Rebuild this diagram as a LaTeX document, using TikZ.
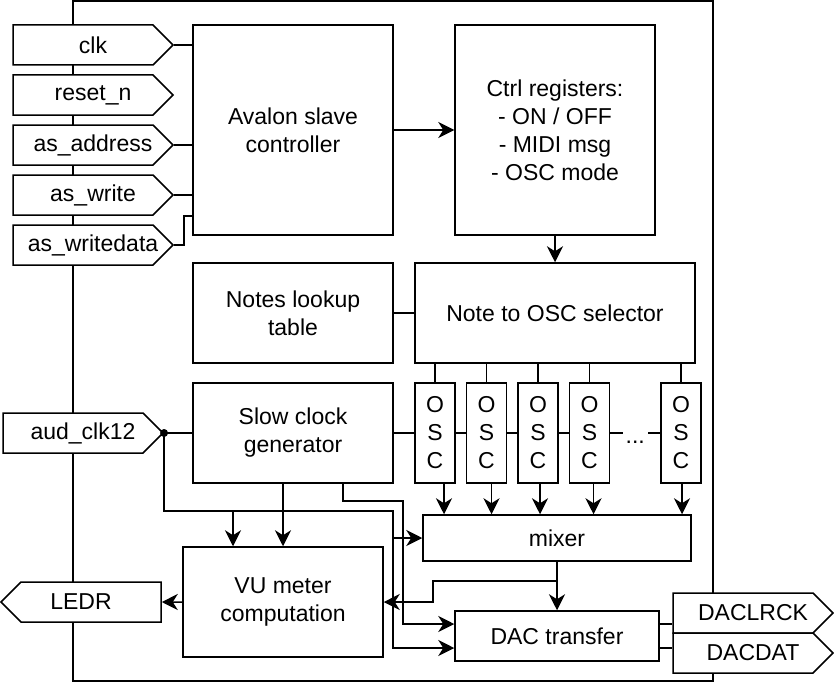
\documentclass[tikz,border=0pt]{standalone}
\usepackage{fontspec}
\setmainfont{Liberation Sans}
\usetikzlibrary{positioning, arrows.meta, shapes.symbols}

\begin{document}
\begin{tikzpicture}[x=1pt, y=-1pt, line width=1.5pt, font=\fontsize{23}{28}\selectfont,
  box/.style={draw, fill=white, align=center, inner sep=0pt},
  osc/.style={box, minimum width=40pt, minimum height=100pt},
  pinin/.style={draw, fill=white, shape=signal, signal to=east, signal pointer angle=90, minimum width=160pt, minimum height=40pt, inner sep=0pt, execute at end node={\hspace*{-20pt}}},
  pinout/.style={draw, fill=white, shape=signal, signal to=west, signal pointer angle=90, minimum width=160pt, minimum height=40pt, inner sep=0pt, execute at begin node={\hspace*{-20pt}}},
  arrow/.style={-{Stealth[length=16pt, width=16pt, inset=5pt]}}]

  \useasboundingbox (0,0) rectangle (834,682);
  \node[draw, minimum width=640pt, minimum height=680pt, inner sep=0pt] (chip) at (393,341) {};

  \node[box, minimum width=200pt, minimum height=210pt] (avalon) at (293,130) {Avalon slave\\controller};
  \node[box, minimum width=200pt, minimum height=210pt] (ctrl) at (555,130) {Ctrl registers:\\- ON / OFF\\- MIDI msg\\- OSC mode};
  \node[box, minimum width=200pt, minimum height=100pt] (notes) at (293,313) {Notes lookup\\table};
  \node[box, minimum width=280pt, minimum height=100pt] (sel) at (555,313) {Note to OSC selector};
  \node[box, minimum width=200pt, minimum height=100pt] (slow) at (293,433) {Slow clock\\generator};
  \node[osc] (osc1) at (435,433) {O\\S\\C};
  \node[osc, right=10pt of osc1] (osc2) {O\\S\\C};
  \node[osc, right=10pt of osc2] (osc3) {O\\S\\C};
  \node[osc, right=10pt of osc3] (osc4) {O\\S\\C};
  \node[osc, right=50pt of osc4] (osc5) {O\\S\\C};
  \node[box, minimum width=268pt, minimum height=46pt] (mixer) at (557,538) {mixer};
  \node[box, minimum width=200pt, minimum height=110pt] (vu) at (283,602) {VU meter\\computation};
  \node[box, minimum width=204pt, minimum height=50pt] (dac) at (557,636) {DAC transfer};

  \node[pinin] (clk) at (83,45) {clk};
  \node[pinin] (rst) at (83,95) {reset\_n};
  \node[pinin] (addr) at (83,145) {as\_address};
  \node[pinin] (wr) at (83,195) {as\_write};
  \node[pinin] (wdata) at (83,245) {as\_writedata};
  \node[pinin] (aud) at (73,433) {aud\_clk12};
  \node[pinout] (ledr) at (91,602) {LEDR};
  \node[pinin] (lrck) at (743,613) {DACLRCK};
  \node[pinin] (dat) at (743,653) {DACDAT};

  \coordinate (clkbus) at (393,511);
  \coordinate (slowbus) at (403,501);
  \coordinate (tap) at (433,581);

  \draw (clk.east) -- (clk.east -| avalon.west);
  \draw (addr.east) -- (addr.east -| avalon.west);
  \draw (wr.east) -- (wr.east -| avalon.west);
  \draw (wdata.east) -- ++(10,0) |- ([yshift=20pt]avalon.south west);
  \draw[arrow] (avalon) -- (ctrl);
  \draw[arrow] (ctrl) -- (sel);
  \draw (notes) -- (sel);

  \foreach \i in {1,...,5}
    \draw (osc\i.north) -- (osc\i.north |- sel.south);
  \draw (slow) -- (osc1);
  \draw (osc1) -- (osc2);
  \draw (osc2) -- (osc3);
  \draw (osc3) -- (osc4);
  \draw (osc4) -- node[fill=white, inner xsep=3pt, inner ysep=0pt, text height=22pt, text depth=2pt] (dots) {...} (osc5);
  \foreach \i/\dx in {1/9,2/5,3/2,4/4,5/1}
    \draw[arrow] ([xshift=\dx pt]osc\i.south) -- ([xshift=\dx pt]osc\i.south |- mixer.north);

  \fill (aud.east) circle (4pt);
  \draw (aud.east) -- (slow);
  \draw[arrow] (aud.east) |- (clkbus) |- ([yshift=-12pt]dac.west);
  \draw[arrow] ([xshift=-50pt]vu.north |- clkbus) -- ([xshift=-50pt]vu.north);
  \draw[arrow] (clkbus |- mixer.west) -- (mixer.west);
  \draw[arrow] ([xshift=50pt]slow.south) |- (slowbus) |- ([yshift=12pt]dac.west);
  \draw[arrow] (vu.north |- slow.south) -- (vu.north);

  \draw[arrow] (mixer) -- (dac);
  \draw[arrow] (mixer.south |- tap) -- (tap) |- (vu.east);
  \draw[arrow] (vu) -- (ledr);
  \draw ([yshift=12pt]dac.east) -- ([yshift=12pt]dac.east -| lrck.west);
  \draw ([yshift=-12pt]dac.east) -- ([yshift=-12pt]dac.east -| dat.west);
\end{tikzpicture}
\end{document}
